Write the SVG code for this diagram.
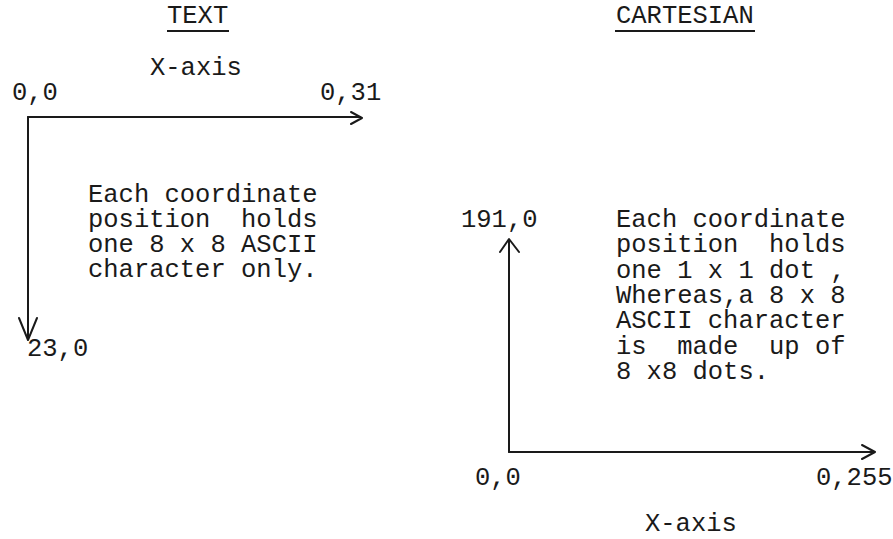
<svg xmlns="http://www.w3.org/2000/svg" width="893" height="539" viewBox="0 0 893 539">
<style>
text{font-family:"Liberation Mono","DejaVu Sans Mono",monospace;font-size:25.5px;fill:#1a1a1a;white-space:pre}
.ax{stroke:#1a1a1a;stroke-width:2;fill:none;stroke-linecap:round;stroke-linejoin:round}
.ul{stroke:#1a1a1a;stroke-width:1.8}
</style>
<rect width="893" height="539" fill="#ffffff"/>
<g id="title-text">
<text x="167" y="23">TEXT</text>
<line class="ul" x1="167" y1="31" x2="229" y2="31"/>
</g>
<g id="title-cartesian">
<text x="616" y="23">CARTESIAN</text>
<line class="ul" x1="615" y1="31" x2="755" y2="31"/>
</g>
<g id="text-labels">
<text x="150" y="75">X-axis</text>
<text x="12" y="100">0,0</text>
<text x="320" y="100">0,31</text>
<text x="27" y="356">23,0</text>
</g>
<g id="text-note">
<text x="88" y="202">Each coordinate</text>
<text x="88" y="227">position  holds</text>
<text x="88" y="252">one 8 x 8 ASCII</text>
<text x="88" y="277">character only.</text>
</g>
<g id="cart-labels">
<text x="461" y="227">191,0</text>
<text x="475" y="485">0,0</text>
<text x="816" y="485">0,255</text>
<text x="645" y="531">X-axis</text>
</g>
<g id="cart-note">
<text x="616" y="227">Each coordinate</text>
<text x="616" y="252">position  holds</text>
<text x="616" y="278">one 1 x 1 dot ,</text>
<text x="616" y="303">Whereas,a 8 x 8</text>
<text x="616" y="328">ASCII character</text>
<text x="616" y="354">is  made  up of</text>
<text x="616" y="379">8 x8 dots.</text>
</g>
<g id="connectors">
<path class="ax" d="M28 117 H360"/>
<path class="ax" d="M351 112 L362 118 L351 124"/>
<path class="ax" d="M28 117 V339"/>
<path class="ax" d="M19 318 L28 340 L37 318"/>
<path class="ax" d="M509 452 V240"/>
<path class="ax" d="M500 252 L509 239 L519 252"/>
<path class="ax" d="M509 452 H873"/>
<path class="ax" d="M862 445 L875 452 L862 459"/>
</g>
</svg>
